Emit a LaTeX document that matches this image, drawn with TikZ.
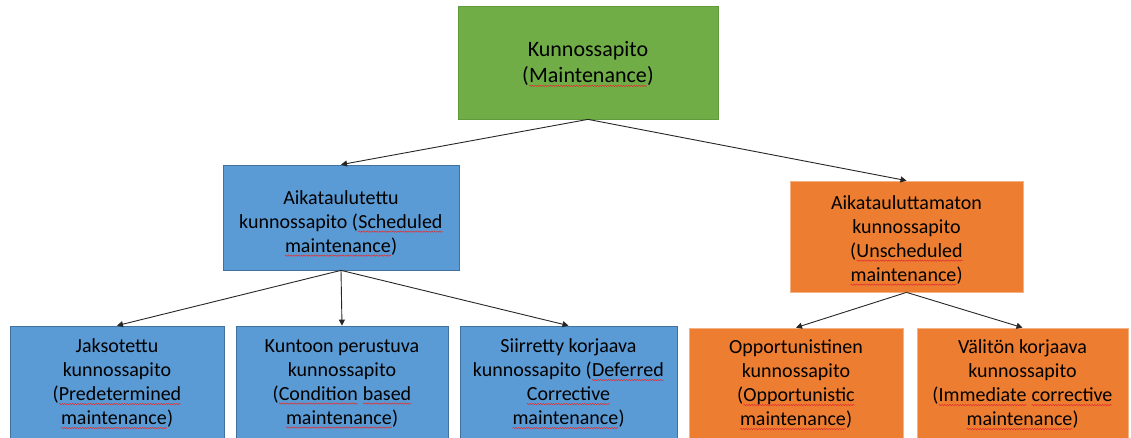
\documentclass[tikz,border=0pt]{standalone}
\usepackage{fontspec}
\setmainfont{Carlito}
\usetikzlibrary{arrows.meta,decorations.pathmorphing}

\definecolor{mgreen}{HTML}{70AD47}
\definecolor{mgreenline}{HTML}{5F9A3B}
\definecolor{mblue}{HTML}{5B9BD5}
\definecolor{mblueline}{HTML}{41719C}
\definecolor{morange}{HTML}{ED7D31}
\definecolor{morangeline}{HTML}{F4B183}
\definecolor{wavered}{HTML}{E03030}
\definecolor{linkgray}{HTML}{262626}

% word with a red wavy underline (spell-check mark);
% the inner picture resets everything the enclosing node sets
\newcommand{\wv}[1]{\tikz[baseline=(w.base),x=1cm,y=1cm,draw=none,fill=none]{%
  \node[shape=rectangle,inner sep=0pt,outer sep=0pt,minimum width=0pt,
        minimum height=0pt,draw=none,fill=none,font=] (w) {#1};
  \draw[draw=wavered,fill=none,line width=0.5bp,decorate,
        decoration={snake,amplitude=0.7bp,segment length=2.6bp}]
    ([yshift=-3.2bp]w.base west) -- ([yshift=-3.2bp]w.base east);}}

% taller first line: pushes a centred text block down a little
\newcommand{\firstline}[1]{\rule{0pt}{#1}}

\tikzset{
  box/.style={rectangle, inner sep=0pt, align=center, text=black,
    line width=0.75bp,
    font=\fontsize{20bp}{24bp}\selectfont},
  greenbox/.style={box, fill=mgreen, draw=mgreenline,
    font=\fontsize{22bp}{26.5bp}\selectfont},
  bluebox/.style={box, fill=mblue, draw=mblueline},
  orangebox/.style={box, fill=morange, draw=morangeline},
  link/.style={draw=linkgray, line width=0.9bp,
    -{Triangle[length=6bp,width=6bp]}}
}

\begin{document}
\begin{tikzpicture}[x=1bp,y=-1bp]
  \useasboundingbox (0,0) rectangle (1131,438);
  \clip (0,0) rectangle (1131,438);

  % root
  \node[greenbox, minimum width=260bp, minimum height=113bp] (root) at (588,62.5)
    {\firstline{18bp}Kunnossapito\\(\wv{Maintenance})};

  % second level
  \node[bluebox, minimum width=236bp, minimum height=105bp] (sched) at (341,217.5)
    {\firstline{26bp}Aikataulutettu\\kunnossapito (\wv{Scheduled}\\\wv{maintenance})};
  \node[orangebox, minimum width=233bp, minimum height=111bp] (unsched) at (906.5,236.5)
    {\firstline{22bp}Aikatauluttamaton\\kunnossapito\\(\wv{Unscheduled}\\\wv{maintenance})};

  % third level, scheduled branch
  \node[bluebox, minimum width=214bp, minimum height=116bp] (pred) at (117,384)
    {Jaksotettu\\kunnossapito\\(\wv{Predetermined}\\\wv{maintenance})};
  \node[bluebox, minimum width=212bp, minimum height=116bp] (cond) at (342,384)
    {Kuntoon perustuva\\kunnossapito\\(\wv{Condition} \wv{based}\\\wv{maintenance})};
  \node[bluebox, minimum width=217bp, minimum height=116bp] (defer) at (568.5,384)
    {Siirretty korjaava\\kunnossapito (\wv{Deferred}\\\wv{Corrective}\\\wv{maintenance})};

  % third level, unscheduled branch
  \node[orangebox, minimum width=214bp, minimum height=114bp] (opp) at (796,385)
    {Opportunistinen\\kunnossapito\\(\wv{Opportunistic}\\\wv{maintenance})};
  \node[orangebox, minimum width=211bp, minimum height=114bp] (imm) at (1022.5,385)
    {Välitön korjaava\\kunnossapito\\(\wv{Immediate} \wv{corrective}\\\wv{maintenance})};

  % connectors
  \draw[link] (root.south) -- (sched.north);
  \draw[link] (root.south) -- (unsched.north);
  \draw[link] (sched.south) -- (pred.north);
  \draw[link] (sched.south) -- (cond.north);
  \draw[link] (sched.south) -- (defer.north);
  \draw[link] (unsched.south) -- (opp.north);
  \draw[link] (unsched.south) -- (imm.north);
\end{tikzpicture}
\end{document}
